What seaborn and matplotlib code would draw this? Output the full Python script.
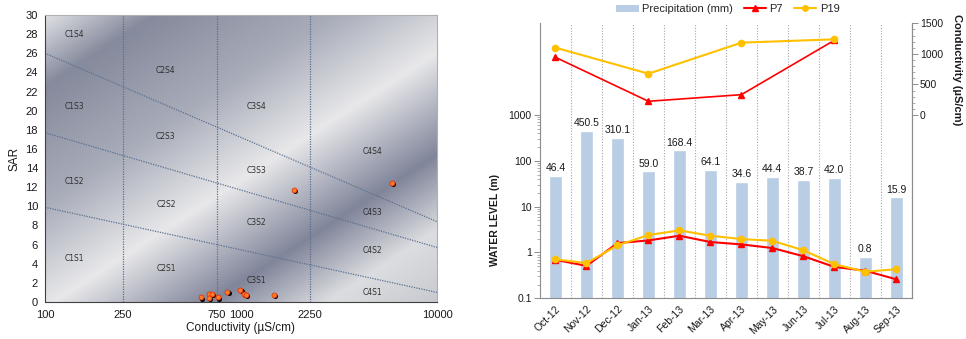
import numpy as np
import matplotlib
matplotlib.use('Agg')
import matplotlib.pyplot as plt
import matplotlib.transforms as mtransforms
from matplotlib.colors import LinearSegmentedColormap
from matplotlib.lines import Line2D
from matplotlib.patches import Patch
from matplotlib.ticker import NullFormatter
import seaborn as sns

# ---------------- data: left panel (USSL / Wilcox diagram) ----------------
sample_ec = [622, 687, 687, 711, 764, 851, 993, 1036, 1061, 1473, 1862, 5870]
sample_sar = [0.48, 0.80, 0.42, 0.83, 0.48, 1.07, 1.25, 0.83, 0.76, 0.76, 11.7, 12.45]

ec_class_limits = [250, 750, 2250]
sar_line_ec = [100, 10000]
sar_line_s1_s2 = [9.9, 1.0]
sar_line_s2_s3 = [17.7, 5.7]
sar_line_s3_s4 = [26.0, 8.4]

zone_names = ["C1S4", "C1S3", "C1S2", "C1S1",
              "C2S4", "C2S3", "C2S2", "C2S1",
              "C3S4", "C3S3", "C3S2", "C3S1",
              "C4S4", "C4S3", "C4S2", "C4S1"]
zone_ec = [142, 142, 142, 142, 414, 414, 414, 414,
           1195, 1195, 1195, 1195, 4710, 4710, 4710, 4710]
zone_sar = [28.0, 20.4, 12.6, 4.55, 24.2, 17.3, 10.2, 3.5,
            20.4, 13.7, 8.3, 2.25, 15.7, 9.4, 5.35, 1.0]

ec_tick_values = [100, 250, 750, 1000, 2250, 10000]
ec_tick_labels = ["100", "250", "750", "1000", "2250", "10000"]

# ---------------- data: right panel ----------------
months = ["Oct-12", "Nov-12", "Dec-12", "Jan-13", "Feb-13", "Mar-13",
          "Apr-13", "May-13", "Jun-13", "Jul-13", "Aug-13", "Sep-13"]
precip = [46.4, 450.5, 310.1, 59.0, 168.4, 64.1, 34.6, 44.4, 38.7, 42.0, 0.8, 15.9]
wl_p7 = [0.69, 0.51, 1.60, 1.83, 2.32, 1.69, 1.50, 1.25, 0.83, 0.485, 0.40, 0.26]
wl_p19 = [0.71, 0.585, 1.43, 2.40, 3.03, 2.32, 1.96, 1.80, 1.12, 0.556, 0.38, 0.43]
cond_months = ["Oct-12", "Jan-13", "Apr-13", "Jul-13"]
cond_p7 = [943, 224, 332, 1221]
cond_p19 = [1101, 676, 1183, 1238]

wl_ticks = [0.1, 1, 10, 100, 1000]
wl_tick_labels = ["0.1", "1", "10", "100", "1000"]
cond_ticks = [0, 500, 1000, 1500]

# ---------------- style ----------------
sns.set_theme(style="white")
plt.rcParams['font.family'] = ['Liberation Sans', 'DejaVu Sans']

fig = plt.figure(figsize=(9.66, 3.39), dpi=100)

# ================= LEFT PANEL =================
rect = [45 / 966, 1 - 302 / 339, (437 - 45) / 966, (302 - 15) / 339]
bg = fig.add_axes(rect, zorder=0)
cmap = LinearSegmentedColormap.from_list("metal", [
    (0.0, '#dfe0e4'), (0.13, '#858a9c'), (0.35, '#a9adba'),
    (0.54, '#e8e8ea'), (0.73, '#80859a'), (0.87, '#dcdde0'), (1.0, '#c8cacf')])
u = np.linspace(0, 1, 500)
v = np.linspace(0, 1, 400)
U, V = np.meshgrid(u, v)
S = 0.471 * U + 0.529 * V
bg.imshow(S, cmap=cmap, vmin=0, vmax=1, origin='upper', aspect='auto',
          extent=[0, 1, 0, 1], interpolation='bilinear')
bg.set_axis_off()

ax1 = fig.add_axes(rect, zorder=1)
ax1.patch.set_visible(False)
ax1.set_xscale('log')

line_kw = dict(color='#5a6f90', lw=0.9, ls=(0, (1, 1)))
for ec in ec_class_limits:
    ax1.axvline(ec, **line_kw)
for sar_vals in (sar_line_s1_s2, sar_line_s2_s3, sar_line_s3_s4):
    ax1.plot(sar_line_ec, sar_vals, **line_kw)

for name, xe, ys in zip(zone_names, zone_ec, zone_sar):
    ax1.text(xe, ys, name, ha='center', va='center', fontsize=5.5,
             color='#303030', family='DejaVu Sans')

shadow = mtransforms.offset_copy(ax1.transData, fig=fig, x=1.3, y=-1.3, units='dots')
ax1.scatter(sample_ec, sample_sar, s=13, color='black', linewidths=0,
            transform=shadow, zorder=4)
sns.scatterplot(x=sample_ec, y=sample_sar, ax=ax1, s=13, color='#ff7a2a',
                edgecolor='#e02a00', linewidth=0.5, zorder=5)

ax1.set_xlim(100, 10000)
ax1.set_ylim(0, 30)
ax1.set_yticks(range(0, 31, 2))
ax1.set_xticks(ec_tick_values, ec_tick_labels)
minor_ec = [k * 10 ** e for e in (2, 3) for k in range(1, 10)] + [10000]
ax1.set_xticks(minor_ec, minor=True)
ax1.xaxis.set_minor_formatter(NullFormatter())
ax1.tick_params(axis='x', which='major', length=0, labelsize=8, pad=6, colors='#1a1a1a')
ax1.tick_params(axis='x', which='minor', length=3, width=0.6, color='#404040', direction='out')
ax1.tick_params(axis='y', which='major', length=3, width=0.6, color='#404040',
                direction='out', labelsize=8, pad=2, labelcolor='#1a1a1a')
for side in ('left', 'bottom'):
    ax1.spines[side].set_color('#404040')
    ax1.spines[side].set_linewidth(0.8)
for side in ('top', 'right'):
    ax1.spines[side].set_color('#b0b0b0')
    ax1.spines[side].set_linewidth(0.8)
ax1.set_xlabel("Conductivity (µS/cm)", fontsize=8.5, labelpad=1, color='#1a1a1a')
ax1.set_ylabel("SAR", fontsize=8.5, labelpad=4, color='#1a1a1a')

# ================= RIGHT PANEL =================
rrect = [540 / 966, 1 - 298.3 / 339, (911.7 - 540) / 966, (298.3 - 23.3) / 339]
ax = fig.add_axes(rrect)
sns.barplot(x=months, y=precip, ax=ax, color='#b9cde5', saturation=1,
            width=0.41, zorder=2)
ax.set_yscale('log')
ax.bar_label(ax.containers[0], labels=[f"{p:.1f}" for p in precip],
             padding=2, fontsize=7.5, color='#1a1a1a')

xpos = np.arange(len(months))
ax.plot(xpos, wl_p7, color='#ff0000', marker='^', ms=4.5, lw=1.5, zorder=3)
ax.plot(xpos, wl_p19, color='#ffc000', marker='o', ms=4.5, lw=1.5, zorder=4)

ax.set_ylim(0.1, 1e5)
ax.set_xlim(-0.5, len(months) - 0.5)
ax.set_yticks(wl_ticks, wl_tick_labels)
minor_wl = [k * 10 ** e for e in (-1, 0, 1, 2) for k in range(2, 10)]
ax.set_yticks(minor_wl, minor=True)
ax.yaxis.set_minor_formatter(NullFormatter())
ax.set_xticks(xpos, months, rotation=45, ha='right', rotation_mode='anchor')
ax.set_xticks(np.arange(-0.5, len(months), 1), minor=True)
ax.grid(False)
ax.grid(True, which='minor', axis='x', color='#a6a6a6', ls=(0, (1, 1.5)), lw=0.8, zorder=0)
ax.set_axisbelow(True)
ax.tick_params(axis='x', which='major', length=0, labelsize=7.5, pad=4, labelcolor='#1a1a1a')
ax.tick_params(axis='x', which='minor', length=4, width=0.7, color='#8c8c8c', direction='out')
ax.tick_params(axis='y', which='major', length=4, width=0.7, color='#8c8c8c',
               direction='out', labelsize=7.5, pad=2, labelcolor='#1a1a1a')
ax.tick_params(axis='y', which='minor', length=2, width=0.6, color='#a0a0a0', direction='out')
ax.spines['top'].set_visible(False)
for side in ('left', 'bottom', 'right'):
    ax.spines[side].set_color('#8c8c8c')
    ax.spines[side].set_linewidth(0.8)
ax.set_xlabel("")
ax.set_ylabel("WATER LEVEL (m)", fontsize=7.5, fontweight='bold', color='#1a1a1a')
ax.yaxis.set_label_coords(-0.108, 0.285)

ax2 = ax.twinx()
cond_x = [months.index(m) for m in cond_months]
ax2.plot(cond_x, cond_p7, color='#ff0000', marker='^', ms=4.5, lw=1.2)
ax2.plot(cond_x, cond_p19, color='#ffc000', marker='o', ms=4.5, lw=1.5)
ax2.set_ylim(-3000, 1500)
ax2.set_yticks(cond_ticks)
ax2.set_yticks(range(0, 1501, 100), minor=True)
ax2.yaxis.set_minor_formatter(NullFormatter())
ax2.tick_params(axis='y', which='major', length=4, width=0.7, color='#8c8c8c',
                direction='out', labelsize=7.5, pad=2, labelcolor='#1a1a1a')
ax2.tick_params(axis='y', which='minor', length=2, width=0.6, color='#a0a0a0', direction='out')
ax2.grid(False)
for side in ('top', 'left', 'bottom'):
    ax2.spines[side].set_visible(False)
ax2.spines['right'].set_color('#8c8c8c')
ax2.spines['right'].set_linewidth(0.8)
ax2.set_ylabel("Conductivity (µS/cm)", fontsize=8, fontweight='bold',
               rotation=270, color='#1a1a1a', va='center')
ax2.yaxis.set_label_coords(1.122, 0.83)

handles = [Patch(facecolor='#b9cde5', edgecolor='none'),
           Line2D([], [], color='#ff0000', marker='^', ms=4, lw=1.5),
           Line2D([], [], color='#ffc000', marker='o', ms=4, lw=1.5)]
fig.legend(handles, ["Precipitation (mm)", "P7", "P19"], loc='center',
           bbox_to_anchor=(728 / 966, 1 - 9 / 339), ncol=3, frameon=False,
           fontsize=8, handlelength=2.0, handleheight=0.6, columnspacing=1.0,
           handletextpad=0.3, borderpad=0)

fig.savefig("out.png", dpi=100)
